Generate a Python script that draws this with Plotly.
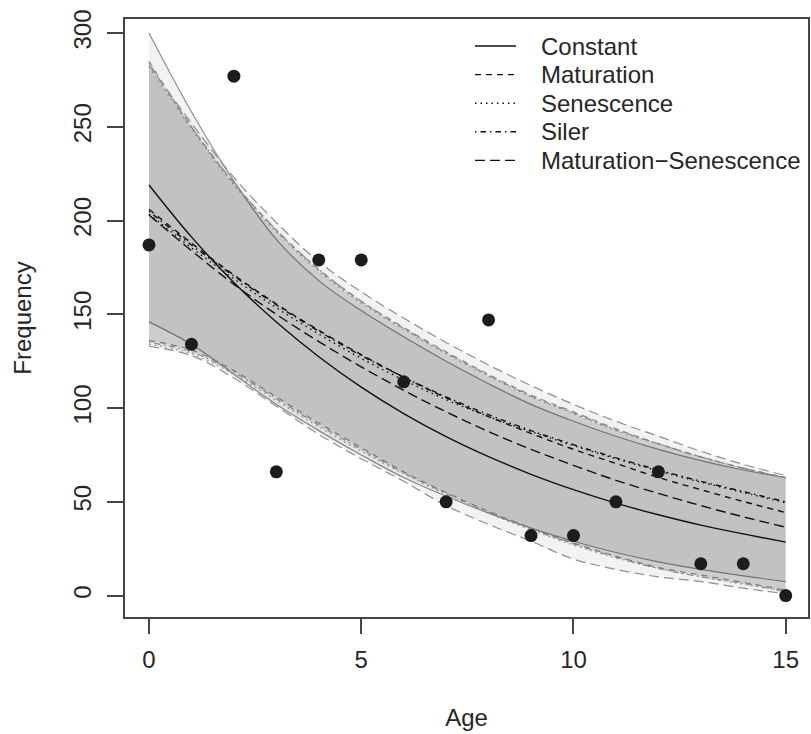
import plotly.graph_objects as go

# ---- data -------------------------------------------------------------
ages = list(range(16))
freq_obs = [187, 134, 277, 66, 179, 179, 114, 50, 147, 32, 32, 50, 66, 17, 17, 0]

# fitted frequencies per model
fit_constant = [219, 191.3, 167, 145.9, 127.4, 111.2, 97.1, 84.8, 74.1, 64.7, 56.5, 49.3, 43.1, 37.6, 32.9, 28.5]
fit_maturation = [206, 188, 171, 155.5, 141.5, 128.5, 116.5, 105.5, 95.5, 86.5, 78, 70.5, 63, 56.5, 50.2, 44.3]
fit_senescence = [203.5, 185.5, 169, 153.5, 139.5, 126.5, 115, 104.5, 95.5, 87.5, 80, 73, 66.5, 60.5, 55, 49.5]
fit_siler = [205, 187, 170.5, 155, 141, 128, 116.5, 106, 96.5, 88, 80.5, 73.5, 67, 61, 55.5, 50]
fit_matsen = [203, 184, 166, 150, 135.5, 122, 109.5, 98, 87.5, 78, 69.5, 61.5, 54.5, 48, 42, 36.5]

# interval bounds per model
lo_constant = [146, 134, 118, 102, 88, 75, 63, 53, 44, 36, 29, 23, 18, 14, 10.5, 7.5]
hi_constant = [300, 258, 221, 190, 168, 152, 138, 125, 113, 102, 93, 85, 78, 72, 67, 63]
lo_maturation = [136, 131, 120, 106, 92, 79, 66, 55, 45, 36, 28, 21, 15, 11, 7, 3]
hi_maturation = [285, 250, 220, 195, 174, 157, 143, 130, 118, 107, 98, 89, 81, 74, 68, 63]
lo_senescence = [134, 129, 118, 104, 90, 77, 65, 54, 44, 35, 27, 20, 14.5, 10, 6, 2.5]
hi_senescence = [282, 249, 219, 194, 173, 156, 142, 129, 117, 106, 97, 88, 81, 74, 68, 62.5]
lo_siler = [135, 130, 119, 105, 91, 78, 65.5, 54.5, 44.5, 35.5, 27.5, 20.5, 14.5, 10, 6.5, 2]
hi_siler = [284, 250, 220, 195, 174, 157, 142.5, 129.5, 117.5, 106.5, 97.5, 88.5, 81, 74, 68, 63]
lo_matsen = [133, 128, 116, 101, 86, 73, 61, 48, 38, 29, 19.5, 14, 10, 7.5, 4, 1]
hi_matsen = [283, 252, 223, 199, 178, 162, 148, 135, 123, 112, 102, 93, 85, 77, 70, 64]

model_names = ["Constant", "Maturation", "Senescence", "Siler", "Maturation\u2212Senescence"]
x_ticks = [0, 5, 10, 15]
y_ticks = [0, 50, 100, 150, 200, 250, 300]

# ---- styling ------------------------------------------------------------
FONT = "Liberation Sans, Arial, Helvetica, sans-serif"
FSIZE = 24
TXT = "#262626"
dashes = ["solid", "6px,5px", "1.5px,4px", "1.5px,4px,5.5px,4px", "10px,5px"]
band_fill = "rgba(0,0,0,0.052)"
band_edge = "#8f8f8f"
fit_color = "#111111"

fits = [fit_constant, fit_maturation, fit_senescence, fit_siler, fit_matsen]
bands = [(lo_constant, hi_constant), (lo_maturation, hi_maturation),
         (lo_senescence, hi_senescence), (lo_siler, hi_siler),
         (lo_matsen, hi_matsen)]

fig = go.Figure()

# translucent interval bands, each outlined in its model's line type
for (lo, hi), dash in zip(bands, dashes):
    fig.add_trace(go.Scatter(
        x=ages, y=lo, mode="lines", line=dict(color=band_edge, width=1.2, dash=dash, shape="spline"),
        showlegend=False, hoverinfo="skip"))
    fig.add_trace(go.Scatter(
        x=ages, y=hi, mode="lines", line=dict(color=band_edge, width=1.2, dash=dash, shape="spline"),
        fill="tonexty", fillcolor=band_fill, showlegend=False, hoverinfo="skip"))

# fitted curves
for name, fit, dash in zip(model_names, fits, dashes):
    fig.add_trace(go.Scatter(
        x=ages, y=fit, mode="lines", name=name, showlegend=False,
        line=dict(color=fit_color, width=1.4, dash=dash, shape="spline")))

# observed frequencies
fig.add_trace(go.Scatter(
    x=ages, y=freq_obs, mode="markers", name="Observed", showlegend=False,
    marker=dict(color="#1c1c1c", size=13, line=dict(width=0))))

# key in the top-right corner, without a frame: line sample + model name
key_x0, key_x1, key_text_x = 0.5124, 0.5725, 0.6061
key_top, key_step = 0.9548, 0.0478
for i, (name, dash) in enumerate(zip(model_names, dashes)):
    yk = key_top - i * key_step
    fig.add_shape(type="line", xref="paper", yref="paper",
                  x0=key_x0, x1=key_x1, y0=yk, y1=yk,
                  line=dict(color=fit_color, width=1.4, dash=dash))
    fig.add_annotation(xref="paper", yref="paper", x=key_text_x, y=yk,
                       xanchor="left", yanchor="middle", showarrow=False,
                       text=name, font=dict(family=FONT, size=FSIZE, color=TXT))

axis_common = dict(
    showgrid=False, zeroline=False, showline=True, mirror=True,
    linecolor="#444444", linewidth=1.5, ticks="outside",
    tickcolor="#444444", tickwidth=1.5,
    tickfont=dict(family=FONT, size=FSIZE, color=TXT),
)

fig.update_layout(
    width=811, height=734,
    margin=dict(l=125, r=3, t=19, b=117),
    paper_bgcolor="white", plot_bgcolor="white",
    font=dict(family=FONT, size=FSIZE, color=TXT),
    xaxis=dict(range=[-0.565, 15.525], tickvals=x_ticks, ticklen=15, ticklabelstandoff=5,
               title=dict(text="Age", font=dict(family=FONT, size=FSIZE, color=TXT), standoff=38),
               automargin=False, **axis_common),
    yaxis=dict(range=[-11.4, 307.5], tickvals=y_ticks, ticklen=16, tickangle=-90, ticklabelstandoff=7,
               title=dict(text="Frequency", font=dict(family=FONT, size=FSIZE, color=TXT), standoff=30),
               automargin=False, **axis_common),
    showlegend=False,
)

fig.write_html("out.html")
